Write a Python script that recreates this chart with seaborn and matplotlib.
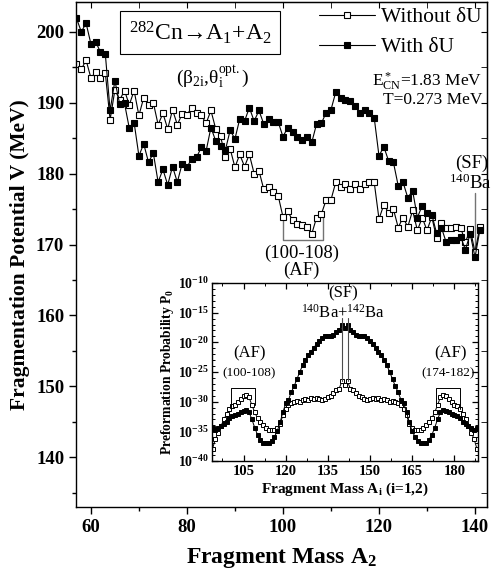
import numpy as np
import pandas as pd
import seaborn as sns
import matplotlib.pyplot as plt
from matplotlib.ticker import MultipleLocator, FuncFormatter, FixedLocator, NullFormatter

# main panel: fragmentation potential V (MeV) vs fragment mass A2
a2 = list(range(57, 142))
v_without = [195.5, 194.7, 196.0, 193.5, 194.3, 193.5, 194.2, 187.6, 191.8, 190.4,
             191.7, 189.7, 191.7, 188.2, 190.7, 189.7, 190.0, 186.9, 188.5, 186.3,
             189.0, 186.9, 188.4, 188.3, 189.3, 188.5, 188.2, 187.1, 188.9, 186.3,
             185.3, 182.3, 183.5, 180.9, 182.7, 181.0, 182.7, 180.0, 180.4, 177.8,
             178.1, 177.4, 176.9, 173.9, 174.7, 173.4, 172.9, 172.7, 172.5, 171.5,
             173.8, 174.3, 176.3, 176.3, 178.8, 178.1, 178.5, 177.8, 178.6, 177.8,
             178.6, 178.8, 178.8, 173.6, 175.6, 174.5, 175.0, 172.4, 173.8, 172.5,
             174.8, 172.0, 173.8, 172.0, 173.9, 170.9, 173.1, 172.4, 172.4, 172.5,
             172.4, 170.3, 172.2, 168.9, 172.5]
v_with = [201.9, 200.0, 201.2, 198.3, 198.6, 197.1, 196.9, 188.9, 193.1, 189.8,
          189.9, 186.4, 187.2, 182.5, 184.2, 181.6, 182.9, 178.8, 180.6, 178.4,
          181.0, 178.8, 181.4, 180.9, 182.1, 182.3, 183.7, 183.2, 186.5, 184.6,
          183.9, 183.3, 186.1, 184.9, 187.7, 187.4, 189.3, 187.4, 188.9, 187.0,
          187.7, 187.3, 187.3, 185.2, 186.5, 185.8, 185.2, 184.8, 185.2, 184.4,
          187.0, 187.1, 188.6, 189.0, 191.5, 190.6, 190.4, 190.2, 189.5, 188.6,
          189.0, 188.6, 187.9, 182.5, 183.8, 181.8, 181.6, 178.3, 178.8, 176.6,
          177.6, 173.8, 175.5, 174.4, 174.2, 171.6, 172.4, 170.3, 170.6, 170.7,
          171.1, 169.3, 171.5, 168.2, 172.0]

# inset: log10 of preformation probability P0 vs fragment mass Ai
ai = list(range(94, 189))
logp_without = [-37.9, -36.3, -35.2, -34.1, -33.0, -32.1, -31.2, -30.8, -30.5, -30.1,
                -29.6, -29.1, -28.8, -29.3, -30.6, -31.8, -32.8, -33.4, -34.0, -34.5,
                -34.7, -34.8, -34.7, -34.5, -33.8, -32.3, -31.2, -30.6, -30.2, -30.0,
                -29.9, -30.0, -29.8, -29.6, -29.8, -29.4, -29.5, -29.4, -29.6, -29.7,
                -29.5, -29.3, -29.1, -28.5, -28.0, -27.8, -26.6, -27.2,
                -26.6, -27.8, -28.0, -28.5, -29.1, -29.3, -29.5, -29.7, -29.6, -29.4,
                -29.5, -29.4, -29.8, -29.6, -29.8, -30.0, -29.9, -30.0, -30.2, -30.6,
                -31.2, -32.3, -33.8, -34.5, -34.7, -34.8, -34.7, -34.5, -34.0, -33.4,
                -32.8, -31.8, -30.6, -29.3, -28.8, -29.1, -29.6, -30.1, -30.5, -30.8,
                -31.2, -32.1, -33.0, -34.1, -35.2, -36.3, -37.9]
logp_with = [-34.5, -34.7, -34.4, -34.1, -33.8, -33.4, -32.8, -32.4, -32.2, -32.0,
             -31.8, -31.6, -31.4, -31.8, -33.0, -34.4, -35.6, -36.4, -36.9, -36.9,
             -36.9, -36.6, -35.9, -35.0, -33.5, -31.8, -30.3, -29.7, -28.4, -27.4,
             -26.2, -25.0, -23.9, -22.9, -22.2, -21.6, -20.9, -20.3, -19.8, -19.3,
             -18.9, -18.9, -18.9, -18.8, -18.2, -18.0, -17.1, -17.6,
             -17.1, -18.0, -18.2, -18.8, -18.9, -18.9, -18.9, -19.3, -19.8, -20.3,
             -20.9, -21.6, -22.2, -22.9, -23.9, -25.0, -26.2, -27.4, -28.4, -29.7,
             -30.3, -31.8, -33.5, -35.0, -35.9, -36.6, -36.9, -36.9, -36.9, -36.4,
             -35.6, -34.4, -33.0, -31.8, -31.4, -31.6, -31.8, -32.0, -32.2, -32.4,
             -32.8, -33.4, -33.8, -34.1, -34.4, -34.7, -34.5]

sns.set_style("ticks", {"axes.edgecolor": "black", "xtick.color": "black",
                        "ytick.color": "black", "text.color": "black",
                        "axes.labelcolor": "black"})
plt.rcParams['font.family'] = ['Liberation Serif', 'DejaVu Serif']
plt.rcParams['mathtext.fontset'] = 'custom'
plt.rcParams['mathtext.rm'] = 'Liberation Serif'
plt.rcParams['mathtext.it'] = 'Liberation Serif:italic'
plt.rcParams['mathtext.bf'] = 'Liberation Serif:bold'

main_df = pd.DataFrame({"A2": a2, "without": v_without, "with": v_with})
inset_df = pd.DataFrame({"Ai": ai,
                         "without": 10.0 ** np.array(logp_without),
                         "with": 10.0 ** np.array(logp_with)})

fig = plt.figure(figsize=(4.91, 5.80), dpi=100)
ax = fig.add_axes([0.1548, 0.1259, 0.8371, 0.8707])

sns.lineplot(data=main_df, x="A2", y="without", ax=ax, color="black", lw=0.8,
             marker="s", markersize=4.6, markerfacecolor="white",
             markeredgecolor="black", markeredgewidth=0.8, label="Without δU")
sns.lineplot(data=main_df, x="A2", y="with", ax=ax, color="black", lw=0.8,
             marker="s", markersize=4.6, markerfacecolor="black",
             markeredgecolor="black", markeredgewidth=0.8, label="With δU")

ax.set_xlim(56.9, 142.5)
ax.set_ylim(133.0, 204.2)
ax.xaxis.set_major_locator(MultipleLocator(20))
ax.xaxis.set_minor_locator(MultipleLocator(10))
ax.yaxis.set_major_locator(MultipleLocator(10))
ax.yaxis.set_minor_locator(MultipleLocator(5))
ax.tick_params(which="major", direction="out", length=5, width=1.0,
               labelsize=13.5)
ax.tick_params(which="minor", direction="out", length=3, width=1.0)
for lab in ax.get_xticklabels() + ax.get_yticklabels():
    lab.set_fontweight("bold")
for s in ax.spines.values():
    s.set_visible(True)
    s.set_linewidth(1.0)

# inward ticks on the top and right spines
top = ax.secondary_xaxis("top")
top.xaxis.set_major_locator(MultipleLocator(20))
top.xaxis.set_minor_locator(MultipleLocator(10))
top.tick_params(which="both", direction="in", labeltop=False, length=4)
right = ax.secondary_yaxis("right")
right.yaxis.set_major_locator(MultipleLocator(10))
right.yaxis.set_minor_locator(MultipleLocator(5))
right.tick_params(which="both", direction="in", labelright=False, length=4)

ax.set_xlabel(r"Fragment Mass A$_\mathbf{2}$", fontsize=17, fontweight="bold",
              labelpad=7)
ax.set_ylabel("Fragmentation Potential V (MeV)", fontsize=15.5,
              fontweight="bold", labelpad=4)

ax.legend(loc="upper right", frameon=False, fontsize=15.5, handlelength=2.6,
          handletextpad=0.3, labelspacing=0.45, borderaxespad=0.1,
          borderpad=0.15)

ax.text(0.302, 0.939, r"$^{282}$Cn→A$_1$+A$_2$", transform=ax.transAxes,
        fontsize=17, ha="center", va="center",
        bbox=dict(boxstyle="square,pad=0.35", fc="white", ec="black", lw=0.8))
ax.text(0.331, 0.851, r"(β$_\mathrm{2i}$,θ$_\mathrm{i}^\mathrm{opt.}$)",
        transform=ax.transAxes, fontsize=14, ha="center", va="center")
ax.text(0.988, 0.842, r"E$^*_\mathrm{CN}$=1.83 MeV", transform=ax.transAxes,
        fontsize=12.5, ha="right", va="center")
ax.text(0.988, 0.806, "T=0.273 MeV", transform=ax.transAxes,
        fontsize=12.5, ha="right", va="center")

# spontaneous fission marker
ax.text(139.3, 181.4, "(SF)", fontsize=13.5, ha="center", va="center")
ax.text(139.0, 178.7, r"$^{140}$Ba", fontsize=13.5, ha="center", va="center")
ax.plot([140, 140], [177.2, 168.5], color="0.45", lw=1.0, zorder=1)

# asymmetric fission bracket
ax.plot([100, 100, 108.3, 108.3], [173.9, 170.7, 170.7, 174.3],
        color="0.45", lw=1.0, zorder=1)
ax.text(103.8, 168.7, "(100-108)", fontsize=13.5, ha="center", va="center")
ax.text(103.8, 166.3, "(AF)", fontsize=13.5, ha="center", va="center")

# inset: preformation probability
axi = fig.add_axes([0.4318, 0.2052, 0.5417, 0.3069])
axi.set_facecolor("white")
sns.lineplot(data=inset_df, x="Ai", y="without", ax=axi, color="black", lw=0.7,
             marker="s", markersize=3.4, markerfacecolor="white",
             markeredgecolor="black", markeredgewidth=0.7, legend=False)
sns.lineplot(data=inset_df, x="Ai", y="with", ax=axi, color="black", lw=0.7,
             marker="s", markersize=3.4, markerfacecolor="black",
             markeredgecolor="black", markeredgewidth=0.7, legend=False)
axi.set_yscale("log")
axi.set_ylim(1e-40, 1e-10)
axi.set_xlim(93.8, 188.4)
axi.yaxis.set_major_locator(FixedLocator([10.0 ** k for k in range(-40, -9, 5)]))
axi.yaxis.set_minor_locator(FixedLocator([10.0 ** k for k in range(-40, -9)]))
axi.yaxis.set_major_formatter(FuncFormatter(
    lambda v, p: r"$\mathbf{10^{%d}}$" % int(round(np.log10(v)))))
axi.yaxis.set_minor_formatter(NullFormatter())
axi.xaxis.set_major_locator(MultipleLocator(15))
axi.xaxis.set_minor_locator(FixedLocator(np.arange(97.5, 188, 15)))
axi.tick_params(which="major", direction="in", length=4, width=0.9,
                top=True, right=True)
axi.tick_params(which="minor", direction="in", length=2, width=0.7,
                top=True, right=True)
axi.tick_params(axis="x", labelsize=10.5, pad=3)
axi.tick_params(axis="y", labelsize=10, pad=2)
for lab in axi.get_xticklabels():
    lab.set_fontweight("bold")
for s in axi.spines.values():
    s.set_linewidth(1.0)
axi.set_xlabel(r"Fragment Mass A$_\mathbf{i}$ (i=1,2)", fontsize=11,
               fontweight="bold", labelpad=2)
axi.set_ylabel(r"Preformation Probability P$_\mathbf{0}$", fontsize=9.8,
               fontweight="bold", labelpad=2)

# inset annotations
axi.plot([100.5, 100.5, 109, 109], [10 ** -31.2, 10 ** -27.7, 10 ** -27.7, 10 ** -30.6],
         color="black", lw=0.7)
axi.plot([173.6, 173.6, 182, 182], [10 ** -30.6, 10 ** -27.7, 10 ** -27.7, 10 ** -31.2],
         color="black", lw=0.7)
axi.text(107.2, 10 ** -21.8, "(AF)", fontsize=12, ha="center", va="center")
axi.text(106.8, 10 ** -25.2, "(100-108)", fontsize=9.5, ha="center", va="center")
axi.text(178.6, 10 ** -21.8, "(AF)", fontsize=12, ha="center", va="center")
axi.text(177.8, 10 ** -25.2, "(174-182)", fontsize=9.5, ha="center", va="center")
axi.text(140.6, 10 ** -11.8, "(SF)", fontsize=12, ha="center", va="center")
axi.text(140.4, 10 ** -15.0, r"$^{140}$Ba+$^{142}$Ba", fontsize=12,
         ha="center", va="center")
axi.plot([140, 140], [10 ** -15.9, 10 ** -26.6], color="0.3", lw=0.8)
axi.plot([142, 142], [10 ** -15.9, 10 ** -26.6], color="0.3", lw=0.8)

fig.savefig("out.png", dpi=100)
